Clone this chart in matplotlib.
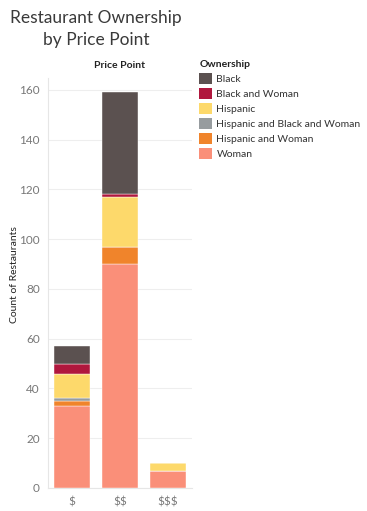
import numpy as np
import matplotlib
matplotlib.use("Agg")
import matplotlib.pyplot as plt
from matplotlib.patches import Patch

plt.rcParams["font.family"] = ["Lato", "DejaVu Sans"]
plt.rcParams["text.parse_math"] = False

# ---------------------------------------------------------------------------
# Data — counts
# ---------------------------------------------------------------------------
PRICE_POINTS = ["$", "$$", "$$$"]
GROUPS = [
    "Black",
    "Black and Woman",
    "Hispanic",
    "Hispanic and Black and Woman",
    "Hispanic and Woman",
    "Woman",
]
COLORS = ["#5b5150", "#b0173d", "#fdd96b", "#979c9f", "#f0842b", "#fa8f79"]

WOMAN = [33, 90, 7]
HISPANIC_WOMAN = [2, 7, 0]
HISPANIC_BLACK_WOMAN = [1, 0, 0]
HISPANIC = [10, 20, 3]
BLACK_WOMAN = [4, 1, 0]
BLACK = [7, 41, 0]

Y_TICKS = [0, 20, 40, 60, 80, 100, 120, 140, 160]

W, H = 367, 511


def px_axes(fig, left, top, right, bottom):
    """Add an axes given pixel edges (origin top-left)."""
    return fig.add_axes([left / W, 1 - bottom / H, (right - left) / W, (bottom - top) / H])


def main() -> None:
    fig = plt.figure(figsize=(W / 100, H / 100), dpi=100)
    ax = px_axes(fig, 48, 78, 192, 488)

    # stack from bottom: Woman first, Black on top
    stack = [
        (WOMAN, 5),
        (HISPANIC_WOMAN, 4),
        (HISPANIC_BLACK_WOMAN, 3),
        (HISPANIC, 2),
        (BLACK_WOMAN, 1),
        (BLACK, 0),
    ]
    x = np.arange(len(PRICE_POINTS))
    bottom = np.zeros(len(PRICE_POINTS))
    for values, ci in stack:
        vals = np.array(values, dtype=float)
        ax.bar(x, vals, bottom=bottom, width=0.74, color=COLORS[ci],
               edgecolor="white", linewidth=0.3, zorder=3)
        bottom += vals

    ax.set_xlim(-0.5, 2.5)
    ax.set_ylim(0, 164.8)
    ax.set_yticks(Y_TICKS)
    ax.set_xticks(x)
    ax.set_xticklabels(PRICE_POINTS)
    ax.tick_params(axis="y", length=0, labelsize=8.5, labelcolor="#777777", pad=6)
    ax.tick_params(axis="x", length=0, labelsize=8.5, labelcolor="#777777", pad=6)
    ax.grid(axis="y", color="#eeeeee", linewidth=0.8, zorder=0)
    for side in ["top", "right"]:
        ax.spines[side].set_visible(False)
    ax.spines["left"].set_color("#e6e6e6")
    ax.spines["bottom"].set_color("#e6e6e6")
    ax.spines["left"].set_linewidth(0.8)
    ax.spines["bottom"].set_linewidth(0.8)

    fig.text(15 / W, 1 - 275 / H, "Count of Restaurants", rotation=90,
             ha="center", va="center", fontsize=7.5, color="#222222")
    fig.text(119 / W, 1 - 65 / H, "Price Point", ha="center", va="center",
             fontsize=7.5, fontweight="bold", color="#222222")

    fig.text(96 / W, 1 - 18 / H, "Restaurant Ownership", ha="center", va="center",
             fontsize=12.5, color="#3a3a3a")
    fig.text(96 / W, 1 - 40 / H, "by Price Point", ha="center", va="center",
             fontsize=12.5, color="#3a3a3a")

    handles = [Patch(facecolor=c, edgecolor="none") for c in COLORS]
    leg = fig.legend(handles, GROUPS, title="Ownership", loc="upper left",
                     bbox_to_anchor=(192 / W, 1 - 53 / H), frameon=False,
                     fontsize=7.5, title_fontsize=7.5, handlelength=1.25,
                     handleheight=1.25, handletextpad=0.4, labelspacing=0.38,
                     alignment="left", labelcolor="#333333", borderaxespad=0.3)
    leg.get_title().set_fontweight("bold")
    leg.get_title().set_color("#222222")

    fig.savefig("out.png", dpi=100)
    plt.close(fig)


if __name__ == "__main__":
    main()
